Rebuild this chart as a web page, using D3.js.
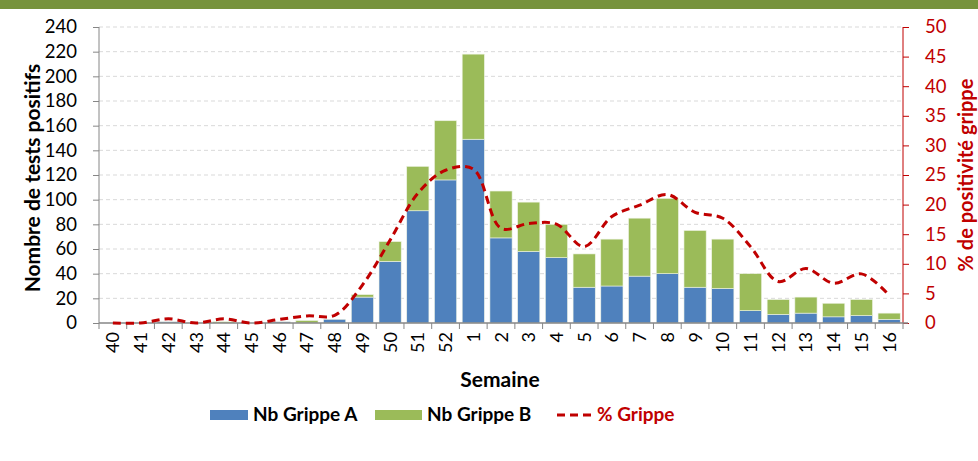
<!DOCTYPE html>
<html>
<head>
<meta charset="utf-8">
<script src="https://cdn.jsdelivr.net/npm/d3@7"></script>
<style>
  body { margin: 0; background: #fff; }
  svg { display: block; font-family: Lato, "Open Sans", sans-serif; }
</style>
</head>
<body>
<svg id="chart" width="978" height="461"></svg>
<script>
// weeks (semaines) and values
var weeks = ["40","41","42","43","44","45","46","47","48","49","50","51","52",
             "1","2","3","4","5","6","7","8","9","10","11","12","13","14","15","16"];
var grippeA = [0,0,1,0,0,0,1,0,3,21,50,91,116,149,69,58,53,29,30,38,40,29,28,10,7,8,5,6,3];
var grippeB = [0,0,0,0,1,0,0,2,0,2,16,36,48,69,38,40,27,27,38,47,61,46,40,30,12,13,11,13,5];
var pctGrippe = [0,0,0.7,0,0.7,0,0.6,1.2,1.3,6.4,14,21.9,25.8,26,16,16.8,16.7,12.9,18,19.9,21.7,18.7,17.7,12.9,7,9.2,6.7,8.3,4.7];
var leftTicks = d3.range(0, 241, 20);
var rightTicks = d3.range(0, 51, 5);

// colors
var blue = "#4F81BD";
var green = "#9BBB59";
var red = "#C00000";
var axisGrey = "#868686";

var svg = d3.select("#chart");

// top band
svg.append("rect").attr("x", 0).attr("y", 0).attr("width", 978).attr("height", 9).attr("fill", "#77933C");

// plot area (careful: "top" is a reserved window global)
var plotLeft = 99, plotRight = 903, plotTop = 27, plotBottom = 323;

var x = d3.scaleBand().domain(weeks).range([plotLeft, plotRight]).paddingInner(0.2).paddingOuter(0.1);
var y = d3.scaleLinear().domain([0, 240]).range([plotBottom, plotTop]);
var y2 = d3.scaleLinear().domain([0, 50]).range([plotBottom, plotTop]);

// gridlines
svg.append("g").selectAll("line")
  .data(leftTicks.filter(function(d) { return d > 0; }))
  .enter().append("line")
  .attr("x1", plotLeft).attr("x2", plotRight)
  .attr("y1", function(d) { return y(d); }).attr("y2", function(d) { return y(d); })
  .attr("stroke", "#d9d9d9").attr("stroke-dasharray", "4,3").attr("stroke-width", 1);

// stacked bars
var stackData = weeks.map(function(w, i) { return { week: w, A: grippeA[i], B: grippeB[i] }; });
var series = d3.stack().keys(["A", "B"])(stackData);
var colors = { A: blue, B: green };

svg.append("g").selectAll("g")
  .data(series)
  .enter().append("g")
  .attr("fill", function(s) { return colors[s.key]; })
  .selectAll("rect")
  .data(function(s) { return s.filter(function(d) { return d[1] - d[0] > 0; }); })
  .enter().append("rect")
  .attr("x", function(d) { return x(d.data.week); })
  .attr("width", x.bandwidth())
  .attr("y", function(d) { return y(d[1]); })
  .attr("height", function(d) { return y(d[0]) - y(d[1]); })
  .attr("stroke", "#eef3e4").attr("stroke-width", 0.6);

// left axis
var yAxis = d3.axisLeft(y).tickValues(leftTicks).tickSize(6).tickPadding(16);
var gy = svg.append("g").attr("transform", "translate(" + plotLeft + ",0)").call(yAxis);
gy.select(".domain").attr("stroke", axisGrey).attr("d", "M0," + plotTop + "V" + plotBottom);
gy.selectAll(".tick line").attr("stroke", axisGrey);
gy.selectAll("text").attr("font-size", 18.5).attr("fill", "#000").attr("font-family", "Lato");

// right axis
var y2Axis = d3.axisRight(y2).tickValues(rightTicks).tickSize(6).tickPadding(16);
var gy2 = svg.append("g").attr("transform", "translate(" + plotRight + ",0)").call(y2Axis);
gy2.select(".domain").attr("stroke", red).attr("d", "M0," + plotTop + "V" + plotBottom);
gy2.selectAll(".tick line").attr("stroke", red);
gy2.selectAll("text").attr("x", 22).attr("font-size", 18.5).attr("fill", red).attr("font-family", "Lato");

// bottom axis line and ticks between categories
var step = x.step();
svg.append("line").attr("x1", plotLeft).attr("x2", plotRight + 5).attr("y1", plotBottom).attr("y2", plotBottom)
  .attr("stroke", axisGrey).attr("stroke-width", 1.5);
svg.append("g").selectAll("line")
  .data(d3.range(weeks.length + 1))
  .enter().append("line")
  .attr("x1", function(i) { return plotLeft + i * step; })
  .attr("x2", function(i) { return plotLeft + i * step; })
  .attr("y1", plotBottom).attr("y2", plotBottom + 6)
  .attr("stroke", axisGrey);

// week labels
svg.append("g").selectAll("text")
  .data(weeks)
  .enter().append("text")
  .attr("transform", function(d) { return "translate(" + (x(d) + x.bandwidth() / 2 + 6.5) + "," + (plotBottom + 9) + ") rotate(-90)"; })
  .attr("text-anchor", "end")
  .attr("font-size", 18)
  .text(function(d) { return d; });

// % grippe line
var line = d3.line()
  .x(function(d, i) { return x(weeks[i]) + x.bandwidth() / 2; })
  .y(function(d) { return y2(d); })
  .curve(d3.curveCatmullRom);

svg.append("path")
  .datum(pctGrippe)
  .attr("d", line)
  .attr("fill", "none")
  .attr("stroke", red)
  .attr("stroke-width", 3)
  .attr("stroke-dasharray", "8,5");

// axis titles
svg.append("text")
  .attr("transform", "translate(40,178) rotate(-90)")
  .attr("text-anchor", "middle").attr("font-weight", "bold").attr("font-size", 21)
  .text("Nombre de tests positifs");

svg.append("text")
  .attr("transform", "translate(973,175) rotate(-90)")
  .attr("text-anchor", "middle").attr("font-weight", "bold").attr("font-size", 20)
  .attr("fill", red)
  .text("% de positivité grippe");

svg.append("text")
  .attr("x", 500).attr("y", 387)
  .attr("text-anchor", "middle").attr("font-weight", "bold").attr("font-size", 21)
  .text("Semaine");

// legend
var legend = svg.append("g").attr("font-weight", "bold").attr("font-size", 19);
legend.append("rect").attr("x", 210).attr("y", 410).attr("width", 38).attr("height", 10).attr("fill", blue);
legend.append("text").attr("x", 253).attr("y", 421).text("Nb Grippe A");
legend.append("rect").attr("x", 375).attr("y", 410).attr("width", 47).attr("height", 10).attr("fill", green);
legend.append("text").attr("x", 427).attr("y", 421).text("Nb Grippe B");
legend.append("line").attr("x1", 557).attr("x2", 592).attr("y1", 415).attr("y2", 415)
  .attr("stroke", red).attr("stroke-width", 3).attr("stroke-dasharray", "8,5");
legend.append("text").attr("x", 597).attr("y", 421).attr("fill", red).text("% Grippe");
</script>
</body>
</html>
